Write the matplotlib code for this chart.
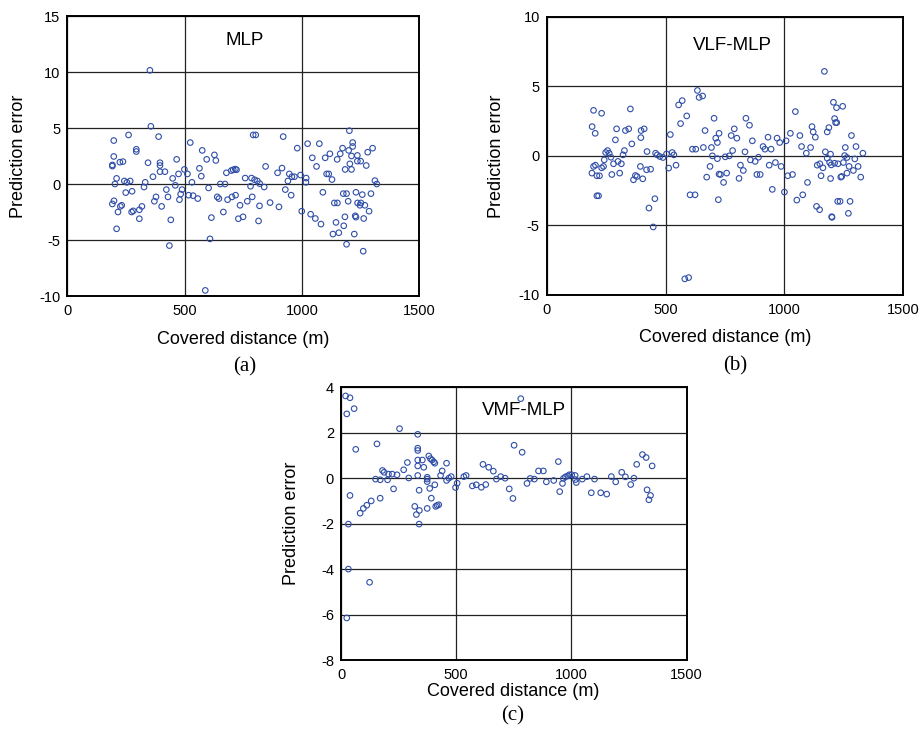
import matplotlib
matplotlib.use("Agg")
import matplotlib.pyplot as plt
import numpy as np

plt.rcParams['font.family'] = ['Liberation Sans', 'DejaVu Sans']

# ---- Panel (a): MLP ----
a_x = [352, 356, 198, 261, 389, 294, 294, 198, 192, 192, 224, 237, 344, 395, 395, 395, 416,
       365, 466, 524, 575, 627, 633, 594, 563, 571, 499, 512, 474, 449, 210, 203, 243, 254,
       268, 332, 327, 276, 249, 460, 422, 429, 378, 371, 402, 441, 489, 483, 478, 517, 536,
       556, 531, 602, 639, 646, 665, 614, 678, 699, 707, 716, 721, 652, 672, 683, 702, 717,
       729, 199, 192, 232, 226, 216, 274, 281, 307, 318, 307, 210, 435, 608, 588,
       792, 803, 920, 980, 1024, 1074, 1044, 1062, 1099, 1119, 1150, 1163, 1173, 1199, 1216,
       1216, 1202, 1211, 1204, 1184, 1211, 1236, 1236, 1250, 1274, 1280, 1301, 845, 915, 896,
       946, 957, 968, 994, 1018, 1017, 940, 758, 785, 798, 810, 820, 839, 1105, 1114, 1128,
       781, 929, 954, 1089, 1311, 1319, 1176, 1190, 1138, 1151, 1197, 1230, 1257, 1294, 1237,
       1251, 1247, 1268, 1286, 736, 767, 788, 819, 864, 902, 749, 815, 999, 1037, 1057, 1081,
       1145, 1132, 1157, 1178, 1183, 1223, 1190, 1261, 1227, 1230, 1263]
a_y = [10.15, 5.15, 3.88, 4.38, 4.23, 3.1, 2.9, 2.46, 1.7, 1.6, 1.95, 2.0, 1.9, 1.9, 1.65, 1.1, 1.1,
       0.65, 2.2, 3.7, 3.0, 2.6, 2.1, 2.2, 1.4, 0.7, 1.3, 0.9, 0.9, 0.5, 0.5, 0.0, 0.27, 0.15,
       0.27, 0.15, -0.27, -0.65, -0.77, -0.12, -0.5, -1.15, -1.15, -1.54, -2.0, -3.2, -0.5, -0.9,
       -1.4, -1.0, -1.04, -1.3, 0.15, -0.35, -1.15, -1.3, -2.5, -3.0, 1.0, 1.2, 1.27, 1.33, 1.27,
       0.0, 0.0, -1.4, -1.15, -1.0, -3.1, -1.5, -1.78, -1.9, -2.0, -2.5, -2.5, -2.4, -2.3, -2.0,
       -3.1, -4.0, -5.5, -4.9, -9.5,
       4.38, 4.38, 4.23, 3.2, 3.6, 3.6, 2.34, 1.57, 2.34, 2.7, 2.2, 2.7, 3.2, 3.0, 3.35,
       3.7, 4.76, 2.5, 1.8, 1.3, 1.3, 2.55, 2.04, 2.04, 1.65, 2.84, 3.2, 1.57, 1.42, 1.0,
       0.9, 0.65, 0.65, 0.8, 0.53, 0.15, 0.27, 0.53, 0.53, 0.38, 0.27, 0.03, -0.27, 0.9, 0.9, 0.4,
       -0.2, -0.5, -1.0, -0.74, 0.3, 0.0, -0.86, -0.86, -1.69, -1.69, -1.54, -0.74, -0.95, -0.86,
       -1.69, -1.69, -1.9, -1.9, -2.43, -1.9, -1.54, -1.15, -1.95, -1.66, -2.04, -2.93, -3.3,
       -2.43, -2.7, -3.08, -3.58, -3.43, -4.47, -4.35, -3.73, -2.93, -4.47, -5.38, -6.0, -2.84,
       -2.96, -3.08]

# ---- Panel (b): VLF-MLP ----
b_x = [197, 231, 352, 191, 204, 294, 289, 331, 345, 397, 410, 396, 358, 555, 570, 589, 563,
       634, 641, 656, 520, 704, 666, 711, 718, 725, 613, 627, 659, 693, 697, 718, 248, 256,
       263, 270, 242, 197, 205, 211, 222, 190, 231, 239, 274, 281, 300, 314, 307, 321, 327,
       211, 218, 394, 373, 380, 365, 404, 420, 437, 422, 458, 465, 476, 489, 504, 528, 535,
       513, 544, 455, 430, 448, 581, 597, 603, 624, 673, 687, 722, 725,
       1168, 1206, 1219, 1245, 1046, 838, 853, 789, 776, 800, 865, 931, 969, 980, 1007, 1025,
       1065, 910, 918, 944, 834, 782, 751, 768, 857, 877, 891, 815, 827, 809, 731, 757, 744,
       884, 898, 936, 962, 986, 949, 1000, 1014, 1034, 1072, 1092, 1110, 1116, 1121, 1130,
       1180, 1187, 1211, 1215, 1220, 1172, 1194, 1180, 1197, 1190, 1211, 1225, 1248, 1253,
       1256, 1263, 1296, 1272, 1282, 1301, 1330, 1310, 1290, 1263, 1241, 1237, 1321, 1194,
       1154, 1138, 1149, 1162, 1097, 1052, 1077, 1135, 1148, 1199, 1200, 1224, 1234, 1276, 1269]
b_y = [3.27, 3.06, 3.37, 2.1, 1.62, 1.94, 1.15, 1.82, 1.94, 1.82, 1.94, 1.31, 0.86, 3.66, 3.97,
       2.87, 2.32, 4.7, 4.2, 4.3, 1.53, 2.7, 1.82, 1.27, 0.96, 1.62, 0.48, 0.48, 0.6, 0.6, 0.0,
       -0.2, 0.24, 0.38, 0.19, -0.1, -0.29, -0.76, -0.67, -1.43, -1.43, -1.24, -0.86, -0.76,
       -1.34, -0.57, -0.4, -0.57, -1.24, 0.07, 0.38, -2.87, -2.87, -0.76, -1.41, -1.48, -1.72,
       -1.65, -1.0, -0.96, 0.31, 0.19, 0.07, -0.05, -0.12, 0.14, 0.24, 0.07, -0.88, -0.67,
       -3.08, -3.75, -5.11, -8.84, -8.75, -2.8, -2.8, -1.53, -0.76, -3.15, -1.31,
       6.07, 3.85, 3.46, 3.56, 3.18, 2.7, 2.2, 1.94, 1.46, 1.27, 1.08, 1.34, 1.27, 0.96, 1.08,
       1.62, 1.46, 0.67, 0.48, 0.48, 0.29, 0.38, -0.07, 0.0, -0.29, -0.4, -0.1, -0.67, -1.05,
       -1.62, -1.34, -1.24, -1.91, -1.34, -1.34, -0.67, -0.48, -0.76, -2.41, -2.6, -1.43, -1.34,
       0.67, 0.19, 0.6, 2.1, 1.72, 1.34, 1.72, 2.03, 2.68, 2.39, 2.39, 0.29, 0.12, -0.17, -0.65,
       -0.48, -0.53, -0.57, -0.48, 0.02, 0.6, -0.12, -0.22, -0.76, 1.46, 0.67, 0.19, -0.76,
       -1.05, -1.24, -1.48, -1.53, -1.53, -1.63, -1.43, -0.67, -0.57, -0.86, -1.91, -3.18, -2.8,
       -3.63, -3.87, -4.37, -4.42, -3.27, -3.27, -3.27, -4.13]

# ---- Panel (c): VMF-MLP ----
c_x = [20, 39, 25, 57, 64, 156, 254, 333, 333, 333, 333, 353, 333, 359, 288, 272, 180, 187,
       206, 222, 243, 294, 333, 150, 170, 202, 228, 39, 170, 131, 112, 97, 83, 32, 32, 124, 25,
       320, 327, 340, 339, 339, 374, 374, 374, 374, 385, 392, 407, 381, 388, 395, 402, 407, 411,
       417, 424, 432, 439, 458, 458, 468, 478, 497, 504, 533, 543, 570, 587, 609, 628, 616, 641,
       661, 674, 693, 712, 730,
       780, 751, 786, 746, 807, 821, 839, 857, 878, 891, 923, 943, 949, 961, 965, 974, 984, 991,
       1001, 1016, 1021, 1017, 1047, 1067, 1100, 1086, 1127, 1153, 1173, 1192, 1218, 1234, 1257,
       1271, 1283, 1308, 1324, 1350, 1328, 1343, 1336]
c_y = [3.62, 3.54, 2.83, 3.06, 1.27, 1.51, 2.18, 1.93, 1.32, 1.22, 0.8, 0.8, 0.54, 0.48, 0.69,
       0.37, 0.34, 0.26, 0.18, 0.18, 0.15, 0.01, 0.12, -0.04, -0.07, -0.07, -0.47, -0.76, -0.88,
       -1.0, -1.19, -1.33, -1.54, -2.02, -4.0, -4.58, -6.15, -1.24, -1.6, -1.42, -2.02, -0.53,
       -1.33, 0.04, -0.04, -0.15, -0.45, -0.88, -0.29, 0.98, 0.86, 0.8, 0.72, 0.66, -1.24, -1.2,
       -1.17, 0.12, 0.32, 0.66, -0.1, 0.0, 0.07, -0.41, -0.22, 0.07, 0.12, -0.34, -0.29, -0.4,
       -0.28, 0.61, 0.48, 0.31, -0.04, 0.07, 0.0, -0.47,
       3.5, 1.45, 1.14, -0.89, -0.23, -0.01, -0.04, 0.32, 0.32, -0.16, -0.1, 0.73, -0.59, -0.23,
       -0.01, 0.06, 0.1, 0.15, 0.15, 0.12, -0.19, -0.06, -0.04, 0.07, -0.04, -0.64, -0.64, -0.7,
       0.07, -0.16, 0.26, 0.06, -0.28, 0.0, 0.61, 1.04, 0.91, 0.54, -0.51, -0.76, -0.95]

x_ticks = [0, 500, 1000, 1500]
a_yticks = [-10, -5, 0, 5, 10, 15]
b_yticks = [-10, -5, 0, 5, 10]
c_yticks = [-8, -6, -4, -2, 0, 2, 4]

W, H = 924, 733
fig = plt.figure(figsize=(W / 100, H / 100), dpi=100)

def rect(l, r, t, b):
    return [l / W, (H - b) / H, (r - l) / W, (b - t) / H]

def fx(px):
    return px / W

def fy(py):
    return 1 - py / H

edge = '#2f4ea8'

def panel(r, xs, ys, yt, title, tpos, xlab, ylab):
    ax = fig.add_axes(r)
    ax.scatter(xs, ys, s=16, facecolors='none', edgecolors=edge, linewidths=0.8, zorder=3)
    ax.set_xlim(x_ticks[0], x_ticks[-1])
    ax.set_ylim(yt[0], yt[-1])
    ax.set_xticks(x_ticks)
    ax.set_yticks(yt)
    ax.set_xticklabels([str(v) for v in x_ticks])
    ax.set_yticklabels([str(v) for v in yt])
    ax.tick_params(axis='y', length=0, labelsize=10.5, pad=5)
    ax.tick_params(axis='x', length=0, labelsize=10.5, pad=6)
    ax.grid(True, color='#222222', linewidth=0.9)
    ax.set_axisbelow(True)
    for s in ax.spines.values():
        s.set_linewidth(1.4)
        s.set_color('black')
    ax.text(tpos[0], tpos[1], title, transform=ax.transAxes, ha='center', va='center',
            fontsize=13.5)
    fig.text(fx(xlab[0]), fy(xlab[1]), 'Covered distance (m)', ha='center', va='center',
             fontsize=13)
    fig.text(fx(ylab[0]), fy(ylab[1]), 'Prediction error', ha='center', va='center',
             fontsize=13, rotation=90)
    return ax

panel(rect(67.3, 419.3, 16, 296), a_x, a_y, a_yticks, 'MLP', (0.505, 0.914),
      (243, 339), (18.5, 156))
panel(rect(546.7, 903.3, 16.7, 295), b_x, b_y, b_yticks, 'VLF-MLP', (0.522, 0.895),
      (725, 338), (497, 156))
panel(rect(341, 686.7, 387.3, 660), c_x, c_y, c_yticks, 'VMF-MLP', (0.529, 0.914),
      (513, 692), (291, 523))

serif = ['Liberation Serif', 'DejaVu Serif']
fig.text(245 / W, 1 - 367 / H, '(a)', ha='center', va='center', fontsize=15, family=serif)
fig.text(735 / W, 1 - 366 / H, '(b)', ha='center', va='center', fontsize=15, family=serif)
fig.text(513 / W, 1 - 716 / H, '(c)', ha='center', va='center', fontsize=15, family=serif)

fig.savefig('out.png', dpi=100)
